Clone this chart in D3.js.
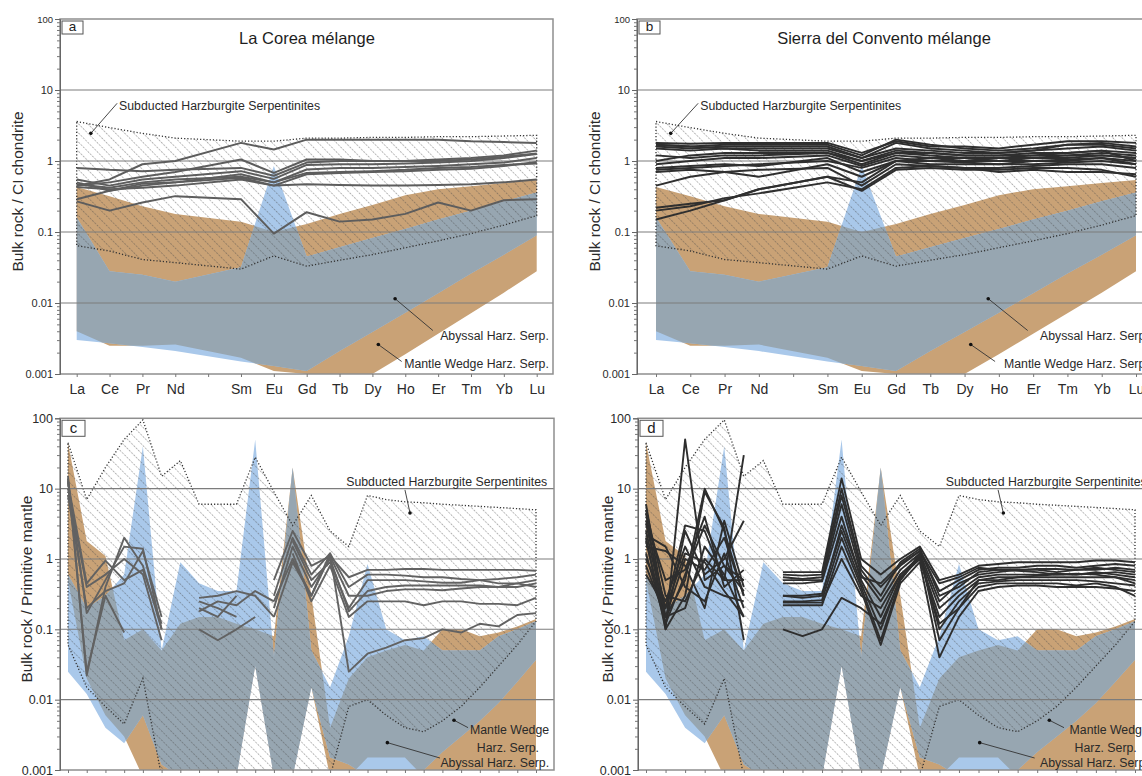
<!DOCTYPE html>
<html lang="en">
<head>
<meta charset="utf-8"/>
<title>Serpentinite REE and trace element patterns</title>
<script src="https://cdn.jsdelivr.net/npm/d3@7"></script>
<style>
  body { margin: 0; background: #fff; }
  svg { font-family: "Liberation Sans", Arial, sans-serif; }
</style>
</head>
<body>
<svg id="chart" width="1142" height="776"></svg>
<script>
// ---- axes ----
const reeAxis = ["La","Ce","Pr","Nd","Pm","Sm","Eu","Gd","Tb","Dy","Ho","Er","Tm","Yb","Lu"];
const reeEls  = ["La","Ce","Pr","Nd","Sm","Eu","Gd","Tb","Dy","Ho","Er","Tm","Yb","Lu"];
const pmEls   = ["Cs","Rb","Ba","Th","U","Nb","Ta","La","Ce","Pb","Pr","Sr","Nd","Zr","Hf","Sm","Eu","Gd","Tb","Dy","Y","Ho","Er","Tm","Yb","Lu"];
const yTickVals = [0.001, 0.01, 0.1, 1, 10, 100];
const yTickText = ["0.001", "0.01", "0.1", "1", "10", "100"];
const gridVals  = [0.01, 0.1, 1, 10];

// ---- reference fields, CI chondrite normalised (14 REE) ----
const reeWedgeTop   = [0.43,0.32,0.23,0.18,0.14,0.1,0.13,0.18,0.24,0.33,0.4,0.44,0.49,0.54];
const reeWedgeBot   = [0.004,0.0025,0.0025,0.0026,0.0017,0.0011,0.001,0.00095,0.001,0.0019,0.0037,0.0072,0.014,0.028];
const reeAbyssalTop = [0.16,0.028,0.025,0.02,0.032,0.85,0.045,0.061,0.082,0.11,0.15,0.2,0.27,0.36];
const reeAbyssalBot = [0.003,0.0027,0.0024,0.0021,0.0015,0.0013,0.0011,0.0021,0.0039,0.0073,0.0137,0.026,0.048,0.09];
const reeSubTop     = [3.6,2.95,2.45,2.1,1.9,1.9,2.1,2.1,2.15,2.15,2.2,2.2,2.25,2.3];
const reeSubBot     = [0.064,0.054,0.041,0.037,0.03,0.046,0.033,0.04,0.048,0.06,0.075,0.095,0.125,0.17];

// ---- reference fields, primitive mantle normalised (26 elements) ----
const pmWedgeTop   = [45,1.8,1.1,0.07,0.1,0.05,0.12,0.15,0.15,0.12,0.1,0.08,20,0.3,0.004,0.02,0.04,0.05,0.06,0.05,0.1,0.1,0.08,0.09,0.11,0.14];
const pmWedgeBot   = [0.5,0.02,0.006,0.003,0.0008,0.0008,0.0008,0.0008,0.0008,0.0008,0.03,0.0008,0.0008,0.015,0.0008,0.0008,0.0015,0.0015,0.0015,0.0008,0.0008,0.0008,0.0008,0.0008,0.0008,0.0008];
const pmAbyssalTop = [0.6,0.2,0.3,0.6,40,0.05,0.9,0.45,0.35,0.35,50,0.04,20,0.05,0.015,0.08,0.85,0.1,0.07,0.08,0.05,0.05,0.05,0.08,0.1,0.13];
const pmAbyssalBot = [0.025,0.012,0.004,0.0024,0.006,0.0012,0.0008,0.0008,0.0008,0.0008,0.03,0.0008,0.0008,0.015,0.0015,0.0012,0.0008,0.0008,0.0008,0.001,0.0018,0.003,0.005,0.009,0.018,0.037];
const pmSubTop     = [45,7,20,50,95,15,25,6,6,6,28,9,3,8,2.5,1.5,8,7,6.5,6.3,6,5.8,5.6,5.4,5.2,5];
const pmSubBot     = [0.06,0.015,0.008,0.0045,0.02,0.0008,0.0008,0.0008,0.0008,0.0008,0.0008,0.0008,0.0008,0.0008,0.0008,0.008,0.01,0.006,0.004,0.0035,0.005,0.008,0.015,0.03,0.06,0.13];

// ---- samples: La Corea, chondrite normalised ----
const coreaRee = [
  [0.45,0.55,0.9,1.0,1.8,1.45,2.0,2.0,2.0,2.0,2.0,1.9,1.85,1.8],
  [0.8,0.75,0.72,0.75,0.8,0.62,0.95,1.0,1.0,1.0,1.05,1.1,1.2,1.4],
  [0.55,0.45,0.55,0.6,0.72,0.56,0.88,0.9,0.9,0.92,0.95,1.0,1.1,1.25],
  [0.5,0.38,0.45,0.5,0.65,0.5,0.76,0.8,0.8,0.82,0.85,0.9,0.95,1.1],
  [0.47,0.42,0.5,0.55,0.6,0.5,0.68,0.7,0.72,0.75,0.8,0.82,0.88,0.92],
  [0.43,0.4,0.42,0.45,0.55,0.45,0.65,0.68,0.7,0.72,0.75,0.78,0.85,0.97],
  [0.29,0.38,0.48,0.5,0.58,0.45,0.47,0.46,0.45,0.45,0.46,0.47,0.5,0.55],
  [0.27,0.2,0.26,0.32,0.29,0.095,0.19,0.14,0.15,0.18,0.26,0.2,0.28,0.29],
  [0.45,0.5,0.6,0.7,1.05,0.68,1.05,1.05,1.0,1.0,1.0,1.05,1.15,1.28]
];

// ---- samples: Sierra del Convento, chondrite normalised ----
const conventoRee = [
  [1.8,1.75,1.8,1.8,1.8,1.3,1.9,1.6,1.6,1.5,1.7,1.9,1.9,1.8],
  [1.7,1.6,1.7,1.7,1.7,1.2,2.0,1.7,1.5,1.4,1.5,1.7,1.8,1.6],
  [1.6,1.5,1.6,1.6,1.6,1.1,1.5,1.4,1.3,1.3,1.4,1.5,1.6,1.4],
  [1.5,1.4,1.5,1.4,1.4,1.0,1.4,1.3,1.2,1.2,1.3,1.3,1.4,1.3],
  [1.0,1.2,1.3,1.3,1.3,0.9,1.3,1.2,1.1,1.1,1.2,1.2,1.3,1.2],
  [0.9,1.0,1.1,1.1,1.2,0.85,1.2,1.1,1.1,1.0,1.1,1.2,1.2,1.1],
  [0.75,0.8,0.85,0.9,1.0,0.8,1.1,1.0,1.0,1.0,1.0,1.0,1.1,1.0],
  [0.7,0.75,0.7,0.6,0.9,0.6,1.0,0.9,0.9,0.9,0.9,0.95,1.0,0.9],
  [0.45,0.6,0.7,0.75,0.8,0.45,0.9,0.85,0.8,0.8,0.85,0.9,0.9,0.8],
  [0.22,0.25,0.28,0.4,0.6,0.38,0.75,0.8,0.75,0.75,0.8,0.8,0.75,0.6],
  [0.2,0.23,0.3,0.35,0.5,0.4,0.8,0.85,0.8,0.7,0.75,0.7,0.7,0.65],
  [0.15,0.2,0.28,0.4,0.6,0.5,1.0,1.0,0.95,0.9,1.0,1.05,1.1,0.9],
  [1.7,1.6,1.5,1.5,1.5,1.1,1.8,1.5,1.4,1.3,1.4,1.7,1.7,1.5],
  [1.2,1.1,1.2,1.2,1.3,1.0,1.3,1.3,1.2,1.2,1.2,1.3,1.4,1.0],
  [0.8,0.85,0.9,0.85,1.1,0.7,1.0,1.1,1.0,1.1,1.1,1.1,1.2,1.1]
];

// ---- samples: La Corea, primitive mantle normalised (null = not analysed) ----
const _ = null;
const coreaPm = [
  [15,0.022,0.4,2.0,0.8,0.1,_,_,_,_,_,_,_,_,_,_,_,_,_,_,_,_,_,_,_,_],
  [13,0.17,0.5,1.5,1.4,0.1,_,_,_,_,_,_,_,_,_,_,_,_,_,_,_,_,_,_,_,_],
  [10,0.4,0.6,1.0,0.6,0.07,_,_,_,_,_,_,_,_,_,_,_,_,_,_,_,_,_,_,_,_],
  [8,0.2,0.35,0.45,1.3,0.15,_,_,_,_,_,_,_,_,_,_,_,_,_,_,_,_,_,_,_,_],
  [12,0.45,0.95,0.5,0.7,0.12,_,_,_,_,_,_,_,_,_,_,_,_,_,_,_,_,_,_,_,_],
  [14,0.025,0.3,0.09,_,_,_,_,_,_,_,_,_,_,_,_,_,_,_,_,_,_,_,_,_,_],
  [_,_,_,_,_,_,_,0.28,0.3,0.35,0.3,0.15,_,_,_,_,_,_,_,_,_,_,_,_,_,_],
  [_,_,_,_,_,_,_,0.18,0.25,0.22,0.35,0.25,_,_,_,_,_,_,_,_,_,_,_,_,_,_],
  [_,_,_,_,_,_,_,0.2,0.15,0.3,_,_,_,_,_,_,_,_,_,_,_,_,_,_,_,_],
  [_,_,_,_,_,_,_,0.1,0.07,0.1,0.15,_,_,_,_,_,_,_,_,_,_,_,_,_,_,_],
  [_,_,_,_,_,_,_,0.25,0.2,0.15,_,_,_,_,_,_,_,_,_,_,_,_,_,_,_,_],
  [_,_,_,_,_,_,_,_,_,_,_,0.5,2.5,0.8,1.1,0.55,0.7,0.7,0.72,0.72,0.7,0.7,0.7,0.7,0.7,0.68],
  [_,_,_,_,_,_,_,_,_,_,_,0.3,2.0,0.6,1.2,0.4,0.6,0.6,0.58,0.55,0.55,0.52,0.5,0.45,0.45,0.5],
  [_,_,_,_,_,_,_,_,_,_,_,0.2,1.5,0.4,1.0,0.18,0.35,0.4,0.42,0.42,0.42,0.42,0.42,0.4,0.4,0.45],
  [_,_,_,_,_,_,_,_,_,_,_,0.25,1.0,0.3,1.1,0.3,0.3,0.35,0.37,0.37,0.36,0.38,0.4,0.4,0.45,0.4],
  [_,_,_,_,_,_,_,_,_,_,_,0.15,0.9,0.3,1.2,0.025,0.045,0.055,0.07,0.075,0.1,0.09,0.12,0.11,0.16,0.17],
  [_,_,_,_,_,_,_,_,_,_,_,_,1.8,0.5,0.9,0.2,0.5,0.5,0.5,0.48,0.46,0.46,0.5,0.52,0.55,0.6],
  [_,_,_,_,_,_,_,_,_,_,_,_,1.2,0.25,0.8,0.15,0.25,0.25,0.25,0.22,0.25,0.25,0.23,0.23,0.22,0.28]
];

// ---- samples: Sierra del Convento, primitive mantle normalised ----
const conventoPm = [
  [6,0.15,0.5,10,2.5,0.3,_,_,_,_,_,_,_,_,_,_,_,_,_,_,_,_,_,_,_,_],
  [4.5,0.1,50,0.5,0.8,0.5,_,_,_,_,_,_,_,_,_,_,_,_,_,_,_,_,_,_,_,_],
  [3.2,0.2,3,2.5,0.5,30,_,_,_,_,_,_,_,_,_,_,_,_,_,_,_,_,_,_,_,_],
  [2,0.1,0.3,9,2.8,0.07,_,_,_,_,_,_,_,_,_,_,_,_,_,_,_,_,_,_,_,_],
  [1.5,1.3,0.8,0.2,3.5,0.4,_,_,_,_,_,_,_,_,_,_,_,_,_,_,_,_,_,_,_,_],
  [1.2,0.12,2.5,0.6,1.0,3.5,_,_,_,_,_,_,_,_,_,_,_,_,_,_,_,_,_,_,_,_],
  [2.5,0.15,0.2,1.5,0.6,0.15,_,_,_,_,_,_,_,_,_,_,_,_,_,_,_,_,_,_,_,_],
  [1.0,0.25,1.5,0.4,0.3,0.25,_,_,_,_,_,_,_,_,_,_,_,_,_,_,_,_,_,_,_,_],
  [3.5,0.5,0.7,4,0.4,0.7,_,_,_,_,_,_,_,_,_,_,_,_,_,_,_,_,_,_,_,_],
  [0.8,0.15,1.0,0.7,2.0,0.3,_,_,_,_,_,_,_,_,_,_,_,_,_,_,_,_,_,_,_,_],
  [2.2,1.5,0.4,0.25,1.2,0.2,_,_,_,_,_,_,_,_,_,_,_,_,_,_,_,_,_,_,_,_],
  [5,0.3,0.25,1.0,0.5,0.5,_,_,_,_,_,_,_,_,_,_,_,_,_,_,_,_,_,_,_,_],
  [1.8,0.12,0.6,3,0.8,0.35,_,_,_,_,_,_,_,_,_,_,_,_,_,_,_,_,_,_,_,_],
  [0.6,0.2,1.2,0.9,0.35,0.15,_,_,_,_,_,_,_,_,_,_,_,_,_,_,_,_,_,_,_,_],
  [_,_,_,_,_,_,_,0.65,0.65,0.65,14,1.0,0.6,1.0,1.5,0.5,0.6,0.8,0.85,0.9,0.9,0.9,0.9,0.95,0.95,0.9],
  [_,_,_,_,_,_,_,0.6,0.58,0.6,10,0.8,0.4,0.8,1.3,0.35,0.5,0.7,0.75,0.75,0.8,0.8,0.75,0.8,0.85,0.8],
  [_,_,_,_,_,_,_,0.5,0.5,0.5,6,0.6,0.25,0.7,1.2,0.25,0.45,0.6,0.65,0.7,0.7,0.65,0.7,0.7,0.75,0.7],
  [_,_,_,_,_,_,_,0.45,0.45,0.48,4,0.5,0.15,0.6,1.1,0.2,0.35,0.55,0.6,0.6,0.6,0.62,0.6,0.65,0.6,0.55],
  [_,_,_,_,_,_,_,0.3,0.3,0.32,2.5,0.45,0.1,0.55,1.0,0.15,0.3,0.5,0.5,0.55,0.55,0.55,0.55,0.55,0.55,0.5],
  [_,_,_,_,_,_,_,0.25,0.25,0.26,2.0,0.4,0.07,0.5,1.1,0.1,0.25,0.45,0.48,0.5,0.5,0.5,0.5,0.48,0.45,0.42],
  [_,_,_,_,_,_,_,0.22,0.22,0.22,1.5,0.35,0.06,0.45,0.9,0.04,0.15,0.35,0.4,0.42,0.42,0.4,0.4,0.4,0.38,0.35],
  [_,_,_,_,_,_,_,0.1,0.08,0.1,0.28,0.2,0.12,0.5,1.2,0.07,0.2,0.4,0.45,0.45,0.45,0.45,0.42,0.45,0.4,0.3],
  [_,_,_,_,_,_,_,0.55,0.52,0.55,8,0.7,0.3,0.9,1.4,0.3,0.4,0.65,0.7,0.7,0.72,0.72,0.7,0.75,0.7,0.65],
  [_,_,_,_,_,_,_,0.24,0.24,0.24,1.0,0.3,0.2,0.6,1.0,0.12,0.2,0.5,0.55,0.55,0.58,0.6,0.6,0.62,0.65,0.6],
  [_,_,_,_,_,_,_,0.3,0.28,0.3,3,0.55,0.45,0.85,1.3,0.45,0.55,0.75,0.7,0.68,0.65,0.6,0.62,0.6,0.55,0.45]
];

// ---- labels (positions in axis-index / value units) ----
const reeNotes = [
  {text: "Subducted Harzburgite Serpentinites", i: 1.29, v: 5.2, anchor: "start", dot: [0.43, 2.45], end: [1.23, 6.5]},
  {text: "Abyssal Harz. Serp.", i: 14.37, v: 0.003, anchor: "end", dot: [9.69, 0.0115], end: [10.84, 0.0041]},
  {text: "Mantle Wedge Harz. Serp.", i: 14.37, v: 0.0012, anchor: "end", dot: [9.18, 0.0026], end: [9.89, 0.0015]}
];
const pmNotes = [
  {text: "Subducted Harzburgite Serpentinites", i: 25.6, v: 11, anchor: "end", dot: [18.27, 4.5], end: [18.0, 9.6]},
  {text: "Mantle Wedge", i: 25.7, v: 0.0032, anchor: "end", dot: [20.62, 0.0051], end: [21.37, 0.004]},
  {text: "Harz. Serp.", i: 23.5, v: 0.0018, anchor: "middle"},
  {text: "Abyssal Harz. Serp.", i: 25.7, v: 0.00112, anchor: "end", dot: [17.06, 0.00245], end: [19.87, 0.00148]}
];

const reeFields = {wTop: reeWedgeTop, wBot: reeWedgeBot, aTop: reeAbyssalTop, aBot: reeAbyssalBot, sTop: reeSubTop, sBot: reeSubBot};
const pmFields  = {wTop: pmWedgeTop, wBot: pmWedgeBot, aTop: pmAbyssalTop, aBot: pmAbyssalBot, sTop: pmSubTop, sBot: pmSubBot};

const panels = [
  {key: "a", box: [60, 19, 553, 374], xr: [76.7, 536.7], axis: reeAxis, els: reeEls, f: reeFields, lines: coreaRee,
   lineColor: "#5d5d5d", yTitle: "Bulk rock / CI chondrite", titleX: 37, title: "La Corea mélange", notes: reeNotes, ree: true},
  {key: "b", box: [637, 19, 1153, 374], xr: [656, 1136], axis: reeAxis, els: reeEls, f: reeFields, lines: conventoRee,
   lineColor: "#2f2f2f", yTitle: "Bulk rock / CI chondrite", titleX: 37, title: "Sierra del Convento mélange", notes: reeNotes, ree: true},
  {key: "c", box: [60, 418.3, 554, 770], xr: [68, 536], axis: pmEls, els: pmEls, f: pmFields, lines: coreaPm,
   lineColor: "#626262", yTitle: "Bulk rock / Primitive mantle", titleX: 28, notes: pmNotes, ree: false},
  {key: "d", box: [638, 418.3, 1154, 770], xr: [646, 1135], axis: pmEls, els: pmEls, f: pmFields, lines: conventoPm,
   lineColor: "#2e2e2e", yTitle: "Bulk rock / Primitive mantle", titleX: 25, notes: pmNotes, ree: false}
];

const svg = d3.select("#chart");
const defs = svg.append("defs");

const hatch = defs.append("pattern")
  .attr("id", "hatch")
  .attr("patternUnits", "userSpaceOnUse")
  .attr("width", 6.5).attr("height", 6.5)
  .attr("patternTransform", "rotate(-45)");
hatch.append("line")
  .attr("x1", 0).attr("y1", 0).attr("x2", 0).attr("y2", 6.5)
  .attr("stroke", "#4a4a4a").attr("stroke-width", 0.8)
  .attr("stroke-dasharray", "2,1.2");

panels.forEach(drawPanel);

function drawPanel(p) {
  const [L, T, R, B] = p.box;
  const x = d3.scalePoint().domain(p.axis).range(p.xr);
  const y = d3.scaleLog().domain([0.001, 100]).range([B, T]);
  const step = (p.xr[1] - p.xr[0]) / (p.axis.length - 1);
  const xi = i => p.xr[0] + i * step;
  const ex = (d, i) => x(p.els[i]);

  const band = (top, bot) => d3.area().x(ex).y0((d, i) => y(bot[i])).y1((d, i) => y(top[i]))(top);
  const wedgeD = band(p.f.wTop, p.f.wBot);
  const abyssalD = band(p.f.aTop, p.f.aBot);
  const subD = band(p.f.sTop, p.f.sBot);

  defs.append("clipPath").attr("id", "plot-" + p.key)
    .append("rect").attr("x", L).attr("y", T).attr("width", R - L).attr("height", B - T);
  defs.append("clipPath").attr("id", "wedge-" + p.key)
    .append("path").attr("d", wedgeD);

  const g = svg.append("g");
  const fields = g.append("g").attr("clip-path", `url(#plot-${p.key})`);
  fields.append("path").attr("d", wedgeD).attr("fill", "#c9a276");
  fields.append("path").attr("d", abyssalD).attr("fill", "#a9c8ea");
  fields.append("g").attr("clip-path", `url(#wedge-${p.key})`)
    .append("path").attr("d", abyssalD).attr("fill", "#97a6b1");
  fields.append("path").attr("d", subD).attr("fill", "url(#hatch)");
  fields.append("path").attr("d", subD)
    .attr("fill", "none").attr("stroke", "#333")
    .attr("stroke-width", 1.3).attr("stroke-dasharray", "1.2,2");

  // horizontal grid
  g.selectAll(null).data(gridVals).enter().append("line")
    .attr("x1", L).attr("x2", R)
    .attr("y1", d => y(d)).attr("y2", d => y(d))
    .attr("stroke", "#7c7c7c").attr("stroke-width", 1.1);

  // sample patterns
  const line = d3.line().defined(v => v != null).x(ex).y(v => y(v));
  g.append("g").attr("clip-path", `url(#plot-${p.key})`)
    .selectAll("path").data(p.lines).enter().append("path")
    .attr("d", line)
    .attr("fill", "none")
    .attr("stroke", p.lineColor)
    .attr("stroke-width", p.ree ? 2 : 1.9)
    .attr("stroke-linejoin", "round");

  // frame
  g.append("rect").attr("x", L).attr("y", T).attr("width", R - L).attr("height", B - T)
    .attr("fill", "none").attr("stroke", "#8e8e8e").attr("stroke-width", 1.5);

  // y axis: minor then major ticks
  const minor = y.ticks().filter(v => !yTickVals.includes(v));
  const ym = g.append("g").attr("transform", `translate(${L},0)`)
    .call(d3.axisLeft(y).tickValues(minor).tickSize(3).tickFormat(""));
  ym.select(".domain").remove();
  ym.selectAll("line").attr("stroke", "#777");
  const yM = g.append("g").attr("transform", `translate(${L},0)`)
    .call(d3.axisLeft(y).tickValues(yTickVals).tickSize(5).tickPadding(2)
      .tickFormat((d, i) => yTickText[i]));
  yM.select(".domain").attr("stroke", "#666");
  yM.selectAll("line").attr("stroke", "#666");
  yM.selectAll("text")
    .attr("font-family", "Liberation Sans, Arial, sans-serif")
    .attr("font-size", p.ree ? 11 : 12.5)
    .attr("fill", "#2a2a2a");
  if (p.ree) yM.selectAll("text").filter(d => d === 100).attr("font-size", 9.5);

  // x axis ticks
  const xa = g.append("g").attr("transform", `translate(0,${B})`)
    .call(d3.axisBottom(x).tickSize(3).tickPadding(7)
      .tickFormat(d => (p.ree && d !== "Pm") ? d : ""));
  xa.select(".domain").remove();
  xa.selectAll("line").attr("stroke", "#777");
  xa.selectAll("text")
    .attr("font-family", "Liberation Sans, Arial, sans-serif")
    .attr("font-size", 14).attr("fill", "#2a2a2a");

  // y title
  g.append("text")
    .attr("transform", `translate(${L - p.titleX},${(T + B) / 2 - 5}) rotate(-90)`)
    .attr("text-anchor", "middle")
    .attr("font-size", 15.5).attr("fill", "#2a2a2a")
    .text(p.yTitle);

  // panel letter
  const bw = p.ree ? 21 : 23, bh = p.ree ? 13 : 16;
  g.append("rect").attr("x", L + 2).attr("y", T + 2).attr("width", bw).attr("height", bh)
    .attr("fill", "#fff").attr("stroke", "#555").attr("stroke-width", 1);
  g.append("text").attr("x", L + 2 + bw / 2).attr("y", T + bh - 1)
    .attr("text-anchor", "middle").attr("font-size", p.ree ? 13.5 : 15).attr("fill", "#222")
    .text(p.key);

  if (p.title) {
    g.append("text").attr("x", L + 247).attr("y", 43.5)
      .attr("text-anchor", "middle").attr("font-size", 16.5).attr("fill", "#1e1e1e")
      .text(p.title);
  }

  // field labels and leaders
  p.notes.forEach(n => {
    g.append("text").attr("x", xi(n.i)).attr("y", y(n.v))
      .attr("text-anchor", n.anchor).attr("font-size", 12.3).attr("fill", "#2a2a2a")
      .text(n.text);
    if (n.dot) {
      g.append("line")
        .attr("x1", xi(n.dot[0])).attr("y1", y(n.dot[1]))
        .attr("x2", xi(n.end[0])).attr("y2", y(n.end[1]))
        .attr("stroke", "#333").attr("stroke-width", 0.9);
      g.append("circle").attr("cx", xi(n.dot[0])).attr("cy", y(n.dot[1])).attr("r", 1.8).attr("fill", "#111");
    }
  });
}
</script>
</body>
</html>
